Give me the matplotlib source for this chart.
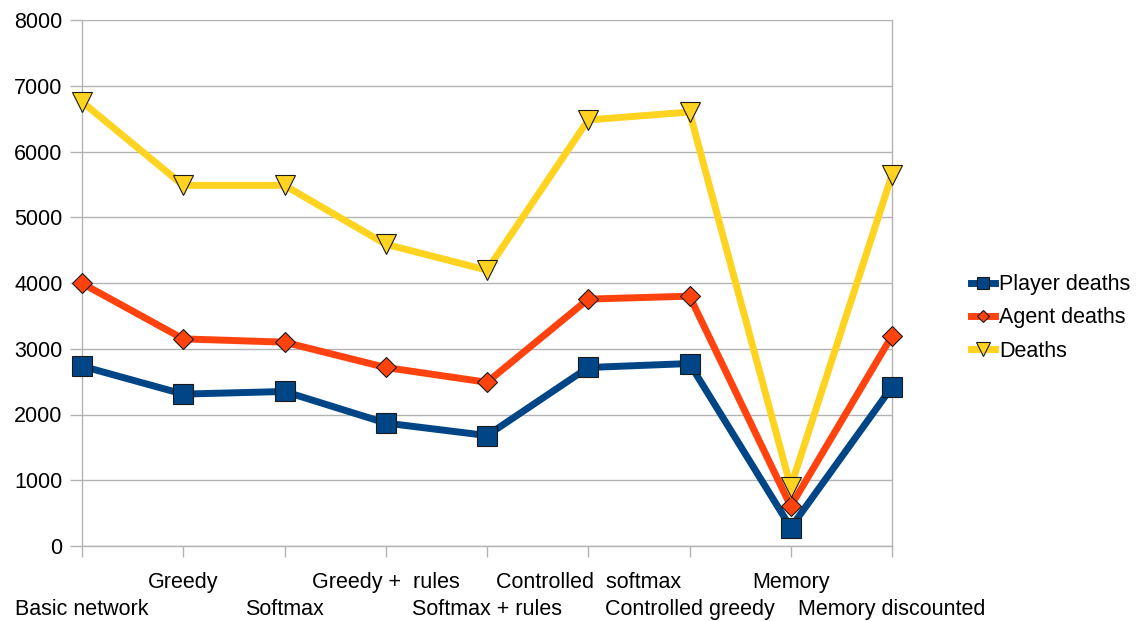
import matplotlib
matplotlib.use("Agg")
import matplotlib.pyplot as plt

categories = ["Basic network", "Greedy", "Softmax", "Greedy +  rules", "Softmax + rules",
              "Controlled  softmax", "Controlled greedy", "Memory", "Memory discounted"]
player_deaths = [2735, 2310, 2350, 1870, 1680, 2715, 2775, 280, 2420]
agent_deaths = [3995, 3150, 3100, 2715, 2490, 3755, 3800, 605, 3195]
deaths = [6755, 5485, 5485, 4590, 4195, 6480, 6600, 900, 5645]
series_names = ["Player deaths", "Agent deaths", "Deaths"]
yticks = [0, 1000, 2000, 3000, 4000, 5000, 6000, 7000, 8000]

plt.rcParams["font.family"] = ["Liberation Sans", "DejaVu Sans"]
FS = 15.5

W, H = 1136, 621
fig = plt.figure(figsize=(W / 100, H / 100), dpi=100)
ax = fig.add_axes([82 / W, 1 - 546 / H, (892 - 82) / W, (546 - 20) / H])

x = list(range(len(categories)))
styles = [
    (player_deaths, "#004586", "s", 14),
    (agent_deaths, "#ff420e", "D", 10),
    (deaths, "#ffd320", "v", 15),
]
for (vals, color, marker, ms), name in zip(styles, series_names):
    ax.plot(x, vals, color=color, lw=5, marker=marker, markersize=ms,
            markerfacecolor=color, markeredgecolor="#1a1a1a", markeredgewidth=0.8,
            label=name, solid_joinstyle="miter", zorder=3, clip_on=False)

ax.set_xlim(0, len(categories) - 1)
ax.set_ylim(0, 8000)
ax.set_yticks(yticks)
ax.set_yticklabels([str(v) for v in yticks])
ax.yaxis.grid(True, color="#b3b3b3", lw=1)
ax.set_axisbelow(True)

# Category labels alternate between two rows: odd positions on the upper
# row (major ticks), even positions on the lower row (minor ticks).
upper = [i for i in x if i % 2 == 1]
lower = [i for i in x if i % 2 == 0]
ax.set_xticks(upper, [categories[i] for i in upper])
ax.set_xticks(lower, [categories[i] for i in lower], minor=True)

for s in ax.spines.values():
    s.set_color("#b3b3b3")
    s.set_linewidth(1)
ax.spines["top"].set_visible(False)

ax.tick_params(axis="both", which="both", colors="#b3b3b3", labelcolor="black",
               labelsize=FS, width=1)
ax.tick_params(axis="y", length=8.5, pad=5.5)
ax.tick_params(axis="x", which="major", length=8, pad=11)
ax.tick_params(axis="x", which="minor", length=8, pad=30.5)

leg = ax.legend(loc="center left", bbox_to_anchor=(971 / W, 1 - 318 / H),
                bbox_transform=fig.transFigure, frameon=False, fontsize=FS,
                markerscale=0.65, handlelength=1.1, handletextpad=0.2,
                labelspacing=0.56, borderaxespad=0, borderpad=0)

fig.savefig("out.png", dpi=100)
